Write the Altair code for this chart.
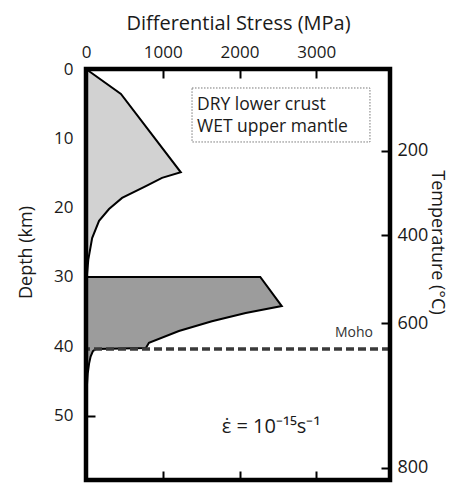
import altair as alt
import pandas as pd

# ---- axis ticks / labels ----
stress_ticks = [0, 1000, 2000, 3000]
depth_ticks = [0, 10, 20, 30, 40, 50]
temp_labels = ["200", "400", "600", "800"]
temp_depths = [11.8, 24.0, 36.7, 57.5]
stress_max = 3960
depth_max = 59.3

# ---- upper crust (light grey) profile ----
upper_depth = [0, 3.6, 14.9, 15.7, 16.9, 18.6, 20.2, 21.9, 24.4, 27.5, 30.0]
upper_stress = [0, 455, 1235, 990, 780, 470, 300, 170, 80, 30, 10]

# ---- dry lower crust + wet upper mantle (dark grey) profile ----
lower_depth = [30.0, 34.2, 35.2, 36.4, 37.8, 39.5, 40.25, 40.4, 40.7, 41.5, 42.5, 44.0, 46.0, 48.0, 50.0, 59.3]
lower_stress = [2270, 2550, 2080, 1640, 1210, 820, 780, 130, 90, 60, 40, 22, 10, 4, 0, 0]

moho_depth = [40.4]

# annotation positions (data units)
box_x = [1381]
box_x2 = [3699]
box_y = [2.74]
box_y2 = [10.53]
legend_lines = ["DRY lower crust", "WET upper mantle"]
legend_x = [1446, 1446]
legend_y = [5.92, 9.09]
moho_label_x = [3738]
moho_label_y = [38.67]
strain_text = ["\u03b5\u0307 = 10\u207b\u00b9\u2075s\u207b\u00b9"]
strain_x = [2410]
strain_y = [51.65]

FONT = "Open Sans"
TXT = "#1a1a1a"

xs = alt.Scale(domain=[0, stress_max], nice=False, zero=False)
ys = alt.Scale(domain=[0, depth_max], nice=False, zero=False, reverse=True)

common_axis = dict(domain=False, grid=False, tickColor="black", tickWidth=2,
                   tickSize=9, offset=-9, labelFont=FONT, labelColor=TXT,
                   titleFont=FONT, titleColor=TXT, titleFontWeight="normal",
                   labelFlush=False)

upper_df = pd.DataFrame({"stress": upper_stress, "depth": upper_depth})
lower_df = pd.DataFrame({"stress": lower_stress, "depth": lower_depth})

# outline path
line_stress = upper_stress + [0] + lower_stress
line_depth = upper_depth + [30.0] + lower_depth
line_df = pd.DataFrame({"stress": line_stress, "depth": line_depth,
                        "idx": list(range(len(line_stress)))})

temp_expr = " : ".join(
    f"datum.value == {d} ? '{t}'" for d, t in zip(temp_depths, temp_labels)
) + " : ''"

light = alt.Chart(upper_df).mark_area(orient="horizontal", color="#d2d2d2").encode(
    x=alt.X("stress:Q", scale=xs, stack=None,
            axis=alt.Axis(orient="top", title="Differential Stress (MPa)", format="d",
                          values=stress_ticks, labelFontSize=17, labelPadding=8,
                          titleFontSize=20, titlePadding=10, **common_axis)),
    y=alt.Y("depth:Q", scale=ys,
            axis=alt.Axis(orient="left", title="Depth (km)", values=depth_ticks,
                          labelFontSize=17, labelPadding=13, titleFontSize=18,
                          titlePadding=18, titleY=183, **common_axis)),
)

dark = alt.Chart(lower_df).mark_area(orient="horizontal", color="#9c9c9c").encode(
    x=alt.X("stress:Q", scale=xs, stack=None,
            axis=alt.Axis(orient="bottom", title=None, values=stress_ticks[1:],
                          labels=False, **common_axis)),
    y=alt.Y("depth:Q", scale=ys,
            axis=alt.Axis(orient="right", title="Temperature (\u00b0C)",
                          values=temp_depths, labelExpr=temp_expr,
                          labelFontSize=18, labelPadding=7, titleFontSize=18,
                          titlePadding=0, titleY=173, **common_axis)),
)

outline = alt.Chart(line_df).mark_line(color="black", strokeWidth=2).encode(
    x=alt.X("stress:Q", scale=xs, axis=None),
    y=alt.Y("depth:Q", scale=ys, axis=None),
    order="idx:Q",
)

moho = alt.Chart(pd.DataFrame({"depth": moho_depth})).mark_rule(
    color="#3a3a3a", strokeWidth=3.5, strokeDash=[8, 4]).encode(
    y=alt.Y("depth:Q", scale=ys, axis=None),
)

moho_lbl = alt.Chart(pd.DataFrame({"x": moho_label_x, "y": moho_label_y, "t": ["Moho"]})).mark_text(
    align="right", baseline="alphabetic", font=FONT, fontSize=14, color="#333").encode(
    x=alt.X("x:Q", scale=xs, axis=None), y=alt.Y("y:Q", scale=ys, axis=None), text="t:N")

box = alt.Chart(pd.DataFrame({"x": box_x, "x2": box_x2, "y": box_y, "y2": box_y2})).mark_rect(
    fill="white", stroke="#777", strokeWidth=1, strokeDash=[1.5, 1.5]).encode(
    x=alt.X("x:Q", scale=xs, axis=None), x2="x2:Q",
    y=alt.Y("y:Q", scale=ys, axis=None), y2="y2:Q")

legend_txt = alt.Chart(pd.DataFrame({"x": legend_x, "y": legend_y, "t": legend_lines})).mark_text(
    align="left", baseline="alphabetic", font=FONT, fontSize=17.5, color=TXT).encode(
    x=alt.X("x:Q", scale=xs, axis=None), y=alt.Y("y:Q", scale=ys, axis=None), text="t:N")

strain = alt.Chart(pd.DataFrame({"x": strain_x, "y": strain_y, "t": strain_text})).mark_text(
    align="center", baseline="middle", font=FONT, fontSize=20, color=TXT).encode(
    x=alt.X("x:Q", scale=xs, axis=None), y=alt.Y("y:Q", scale=ys, axis=None), text="t:N")

frame = alt.Chart(pd.DataFrame({"x": [0], "x2": [stress_max], "y": [0], "y2": [depth_max]})).mark_rect(
    fillOpacity=0, stroke="black", strokeWidth=4.5).encode(
    x=alt.X("x:Q", scale=xs, axis=None), x2="x2:Q",
    y=alt.Y("y:Q", scale=ys, axis=None), y2="y2:Q")

chart = alt.layer(light, dark, outline, moho, moho_lbl, box, legend_txt, strain, frame).resolve_axis(
    x="independent", y="independent"
).properties(
    width=304, height=411,
    padding={"left": 78, "top": 61, "right": 61, "bottom": 3},
    autosize=alt.AutoSizeParams(type="none"),
).configure_view(stroke=None)

chart.save("out.html", embed_options={"renderer": "svg", "actions": False})
